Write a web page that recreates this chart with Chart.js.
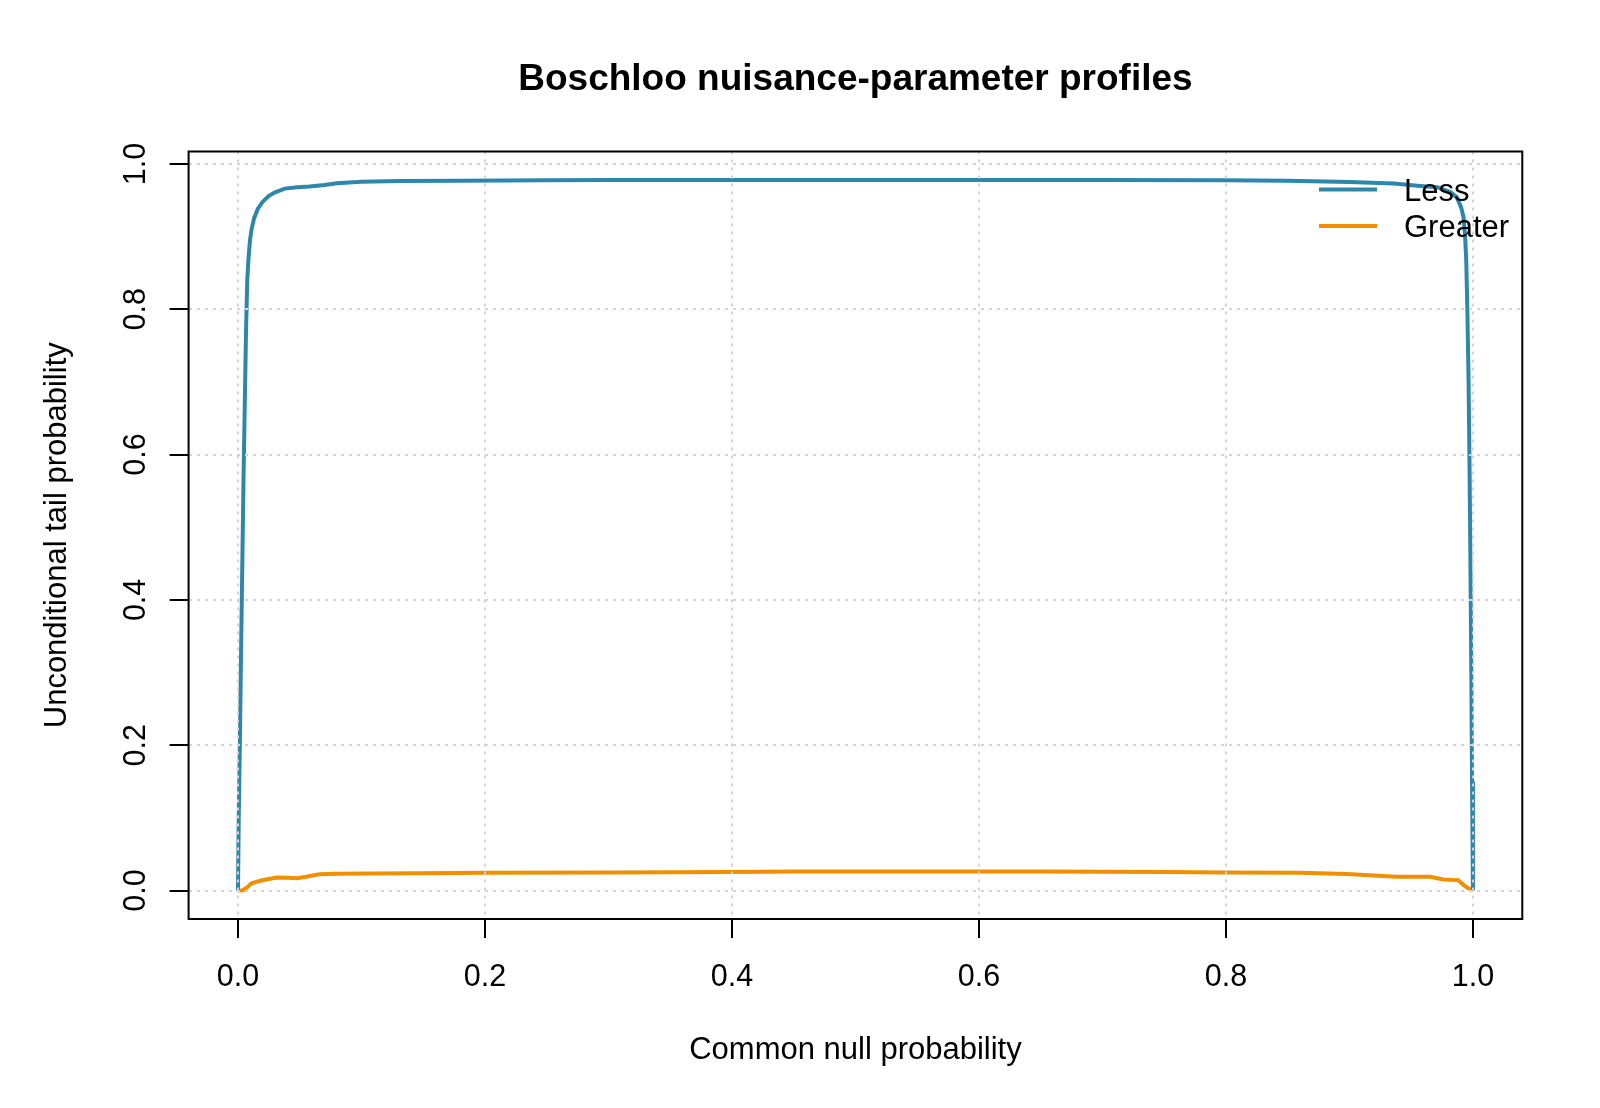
<!DOCTYPE html>
<html>
<head>
<meta charset="utf-8">
<script src="https://cdn.jsdelivr.net/npm/chart.js@4.4.1/dist/chart.umd.min.js"></script>
<style>
  html, body { margin: 0; padding: 0; background: #ffffff; }
  #wrap { width: 1600px; height: 1108px; }
</style>
</head>
<body>
<div id="wrap"><canvas id="chart" width="1600" height="1108"></canvas></div>
<script>
const titleText = "Boschloo nuisance-parameter profiles";
const xTitle = "Common null probability";
const yTitle = "Unconditional tail probability";
const seriesNames = ["Less", "Greater"];
const seriesColors = ["#2E86AB", "#F18F01"];

const xTicks = [0, 0.2, 0.4, 0.6, 0.8, 1.0];
const yTicks = [0, 0.2, 0.4, 0.6, 0.8, 1.0];
const xTickLabels = ["0.0", "0.2", "0.4", "0.6", "0.8", "1.0"];
const yTickLabels = ["0.0", "0.2", "0.4", "0.6", "0.8", "1.0"];

// "Less" profile
const lessX = [0, 0.0006, 0.0015, 0.0025, 0.0035, 0.0045, 0.0055, 0.0065, 0.0075, 0.0085,
  0.0097, 0.011, 0.013, 0.016, 0.02, 0.025, 0.03, 0.038, 0.048, 0.058,
  0.07, 0.08, 0.1, 0.13, 0.18, 0.25, 0.3, 0.4, 0.5, 0.6,
  0.7, 0.8, 0.85, 0.9, 0.936, 0.955, 0.971, 0.982, 0.987, 0.9905,
  0.9924, 0.9937, 0.9946, 0.9955, 0.9965, 0.9973, 0.998, 0.9987, 0.9993, 1.0];
const lessY = [0, 0.10, 0.20, 0.33, 0.45, 0.57, 0.67, 0.77, 0.84, 0.87,
  0.895, 0.91, 0.925, 0.938, 0.948, 0.956, 0.961, 0.966, 0.968, 0.969,
  0.971, 0.9735, 0.9755, 0.9765, 0.977, 0.9775, 0.978, 0.978, 0.978, 0.978,
  0.978, 0.9775, 0.977, 0.975, 0.973, 0.970, 0.968, 0.961, 0.954, 0.940,
  0.927, 0.90, 0.867, 0.80, 0.70, 0.58, 0.45, 0.30, 0.15, 0];

// "Greater" profile
const greaterX = [0, 0.004, 0.007, 0.011, 0.018, 0.025, 0.031, 0.04, 0.0475, 0.055,
  0.066, 0.08, 0.107, 0.147, 0.2, 0.3, 0.4, 0.45, 0.55, 0.65,
  0.7, 0.75, 0.8, 0.86, 0.898, 0.938, 0.9655, 0.976, 0.988, 0.9925,
  0.9965, 1.0];
const greaterY = [0, 0.0005, 0.004, 0.0099, 0.0135, 0.016, 0.018, 0.0175, 0.017, 0.019,
  0.0225, 0.0232, 0.0236, 0.0238, 0.0245, 0.025, 0.0255, 0.0262, 0.0262, 0.0262,
  0.026, 0.0255, 0.025, 0.0245, 0.0227, 0.019, 0.019, 0.0154, 0.0144, 0.0076,
  0.003, 0];

const FONT = '"Liberation Sans", Arial, Helvetica, sans-serif';

const toPoints = (xs, ys) => xs.map((x, i) => ({ x: x, y: ys[i] }));

// box, titles, tick labels and legend in R base-graphics style
const rStyle = {
  id: "rStyle",
  afterDraw(chart) {
    const ctx = chart.ctx;
    const a = chart.chartArea;
    const xs = chart.scales.x;
    const ys = chart.scales.y;
    const cx = (a.left + a.right) / 2;
    const cy = (a.top + a.bottom) / 2;
    ctx.save();

    ctx.strokeStyle = "#000";
    ctx.lineWidth = 2;
    ctx.setLineDash([]);
    ctx.strokeRect(a.left, a.top, a.right - a.left, a.bottom - a.top);

    ctx.fillStyle = "#000";
    ctx.textAlign = "center";
    ctx.textBaseline = "alphabetic";
    ctx.font = "bold 37px " + FONT;
    ctx.fillText(titleText, cx, 90);

    ctx.font = "30.5px " + FONT;
    xTicks.forEach((v, i) => ctx.fillText(xTickLabels[i], xs.getPixelForValue(v), 986));
    ctx.font = "31px " + FONT;
    ctx.fillText(xTitle, cx, 1059);

    ctx.font = "30.5px " + FONT;
    yTicks.forEach((v, i) => {
      ctx.save();
      ctx.translate(145, ys.getPixelForValue(v));
      ctx.rotate(-Math.PI / 2);
      ctx.fillText(yTickLabels[i], 0, 0);
      ctx.restore();
    });
    ctx.font = "31px " + FONT;
    ctx.save();
    ctx.translate(66, cy);
    ctx.rotate(-Math.PI / 2);
    ctx.fillText(yTitle, 0, 0);
    ctx.restore();

    // legend, no box
    const rows = [189.5, 226];
    chart.data.datasets.forEach((ds, i) => {
      ctx.strokeStyle = ds.borderColor;
      ctx.lineWidth = 4;
      ctx.beginPath();
      ctx.moveTo(1319, rows[i]);
      ctx.lineTo(1377, rows[i]);
      ctx.stroke();
      ctx.fillStyle = "#000";
      ctx.textAlign = "left";
      ctx.fillText(ds.label, 1404, rows[i] + 11);
    });
    ctx.restore();
  }
};

const gridOpts = {
  z: 1,
  color: "#D3D3D3",
  lineWidth: 2,
  drawTicks: true,
  tickLength: 19,
  tickColor: "#000",
  tickWidth: 2,
  tickBorderDash: [1, 0]
};

new Chart(document.getElementById("chart"), {
  type: "line",
  data: {
    datasets: [
      {
        label: seriesNames[0],
        data: toPoints(lessX, lessY),
        borderColor: seriesColors[0],
        borderWidth: 4,
        pointRadius: 0,
        tension: 0
      },
      {
        label: seriesNames[1],
        data: toPoints(greaterX, greaterY),
        borderColor: seriesColors[1],
        borderWidth: 4,
        pointRadius: 0,
        tension: 0
      }
    ]
  },
  options: {
    responsive: false,
    animation: false,
    devicePixelRatio: 1,
    layout: { padding: { top: 151.5, right: 77.7, bottom: 0, left: 0 } },
    plugins: { legend: { display: false }, title: { display: false }, tooltip: { enabled: false } },
    scales: {
      x: {
        type: "linear",
        min: -0.04,
        max: 1.04,
        afterBuildTicks: s => { s.ticks = xTicks.map(v => ({ value: v })); },
        afterFit: s => { s.height = 189; },
        ticks: { display: false },
        grid: gridOpts,
        border: { display: false, dash: [3, 5] }
      },
      y: {
        type: "linear",
        min: -0.0391,
        max: 1.0171,
        afterBuildTicks: s => { s.ticks = yTicks.map(v => ({ value: v })); },
        afterFit: s => { s.width = 188.6; },
        ticks: { display: false },
        grid: gridOpts,
        border: { display: false, dash: [3, 5] }
      }
    }
  },
  plugins: [rStyle]
});
</script>
</body>
</html>
